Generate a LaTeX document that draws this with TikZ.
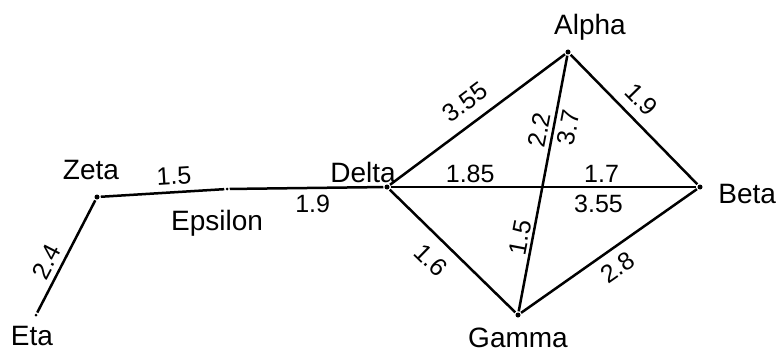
\documentclass[tikz,border=0pt]{standalone}
\usepackage{fontspec}
\setmainfont{Liberation Sans}
\usepackage{tikz}
\usetikzlibrary{positioning}

\begin{document}
\begin{tikzpicture}[x=1pt, y=-1pt, line width=2.5pt,
    vertex/.style={shape=circle, fill, inner sep=0pt, minimum size=5pt},
    vname/.style={font=\fontsize{28}{32}\selectfont},
    wt/.style={font=\fontsize{25}{29}\selectfont}]
    \useasboundingbox (0,0) rectangle (779,353);

    \node at (568, 52) (Alpha) [vertex, label={[vname, xshift=22pt, yshift=3pt]above:Alpha}] {};
    \node at (700, 187) (Beta) [vertex, label={[vname, xshift=10pt, yshift=-7pt]right:Beta}] {};
    \node at (518, 315) (Gamma) [vertex, label={[vname, yshift=-5pt]below:Gamma}] {};
    \node at (387, 187) (Delta) [vertex, label={[vname, xshift=16pt, yshift=-3pt]above left:Delta}] {};
    \node at (227, 189) (Epsilon) [vertex, minimum size=3pt, label={[vname, xshift=-10pt, yshift=-14pt]below:Epsilon}] {};
    \node at (97, 197) (Zeta) [vertex, label={[vname, xshift=-6pt, yshift=9pt]above:Zeta}] {};
    \node at (36, 315) (Eta) [vertex, minimum size=3pt, label={[vname, xshift=-4pt, yshift=-4pt]below:Eta}] {};

    % left branch
    \path[draw] (Eta) -- (Zeta) node [pos=0.39, sloped, above=2pt, wt] {2.4};
    \path[draw] (Zeta) -- (Epsilon) node [pos=0.6, sloped, above=3pt, wt] {1.5};
    \path[draw] (Epsilon) -- (Delta) node [pos=0.54, below=3pt, wt] {1.9};

    % outer edges
    \path[draw] (Delta) -- (Alpha) node [pos=0.5, sloped, above=8pt, wt] {3.55};
    \path[draw] (Alpha) -- (Beta) node [pos=0.45, sloped, above=6pt, wt] {1.9};
    \path[draw] (Delta) -- (Gamma) node [pos=0.45, sloped, below=8pt, wt] {1.6};
    \path[draw] (Gamma) -- (Beta) node [pos=0.49, sloped, below=5pt, wt] {2.8};

    % crossing edges
    \path[draw] (Delta) -- (Beta)
        node [pos=0.26, above=0pt, wt] {1.85}
        node [pos=0.69, above=0pt, wt] {1.7}
        node [pos=0.68, below=3pt, wt] {3.55};
    \path[draw] (Gamma) -- (Alpha)
        node [pos=0.28, sloped, above=-1pt, wt] {1.5}
        node [pos=0.70, sloped, above=0pt, wt] {2.2}
        node [pos=0.73, sloped, below=1pt, wt] {3.7};

\end{tikzpicture}
\end{document}
